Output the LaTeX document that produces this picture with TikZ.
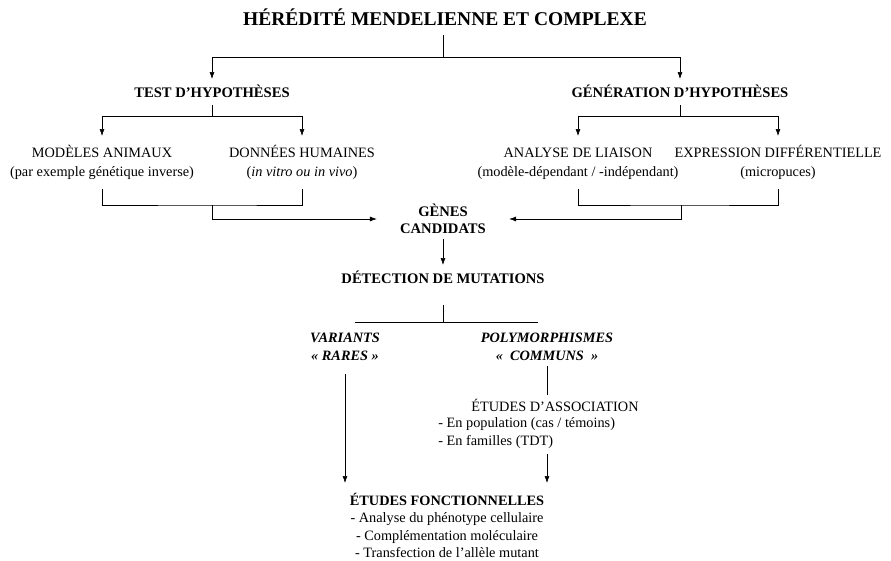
\documentclass[tikz,border=0pt]{standalone}
\usepackage{fontspec}
\setmainfont{Liberation Serif}
\usetikzlibrary{arrows.meta}

\begin{document}
\begin{tikzpicture}[>={Latex[length=7pt,width=5pt]}, x=1pt, y=-1pt, line width=0.6pt,
    titre/.style={font=\fontsize{19.5}{22}\selectfont\bfseries, text depth=4pt, inner sep=6pt, anchor=base},
    gras/.style={font=\fontsize{14.6}{17}\selectfont\bfseries, text height=12.5pt, text depth=2pt, inner sep=5.5pt, anchor=north},
    grasduo/.style={font=\fontsize{14.6}{17}\selectfont\bfseries, align=center, inner xsep=23pt, inner ysep=5pt},
    grasital/.style={font=\fontsize{14.3}{18}\selectfont\bfseries\itshape, align=center, inner sep=5pt, anchor=north},
    texte/.style={font=\fontsize{14.3}{19}\selectfont, align=center, inner xsep=2pt, inner ysep=9pt, anchor=north},
    simple/.style={font=\fontsize{14.3}{18}\selectfont, text height=12.5pt, text depth=3pt, inner sep=3.5pt, anchor=north},
    liste/.style={font=\fontsize{14.3}{18.5}\selectfont, align=left, inner sep=2pt, anchor=north west},
    bloc/.style={font=\fontsize{14.3}{17.3}\selectfont, align=center, inner xsep=2pt, inner ysep=10pt, anchor=north}]
    \useasboundingbox (0,0) rectangle (891,560);

    % 1. Titre et les deux branches
    \node[titre] (titre) at (445,25) {HÉRÉDITÉ MENDELIENNE ET COMPLEXE};
    \node[gras] (test) at (212,79) {TEST D’HYPOTHÈSES};
    \node[gras] (gen) at (680,79) {GÉNÉRATION D’HYPOTHÈSES};

    \coordinate (j0) at (443,57);
    \draw (titre.south -| j0) -- (j0);
    \draw[->] (j0) -| (test);
    \draw[->] (j0) -| (gen);

    % 2. Approches
    \node[texte] (animaux) at (102,136) {MODÈLES ANIMAUX\\(par exemple génétique inverse)};
    \node[texte] (humaines) at (302,136) {DONNÉES HUMAINES\\(\textit{in vitro ou in vivo})};
    \node[texte] (liaison) at (578,136) {ANALYSE DE LIAISON\vphantom{É}\\(modèle-dépendant / -indépendant)};
    \node[texte] (expression) at (778,136) {EXPRESSION DIFFÉRENTIELLE\\(micropuces)};

    \coordinate (j1) at (212,116);
    \coordinate (j2) at (680,116);
    \draw (test) -- (j1);
    \draw[->] (j1) -| (animaux);
    \draw[->] (j1) -| (humaines);
    \draw (gen) -- (j2);
    \draw[->] (j2) -| (liaison);
    \draw[->] (j2) -| (expression);

    % 3. Gènes candidats
    \node[grasduo] (genes) at (443,219) {GÈNES\\CANDIDATS};

    \coordinate (k1) at (212,205);
    \coordinate (k1b) at (212,219);
    \coordinate (k2) at (681,205);
    \coordinate (k2b) at (681,219);
    \draw (animaux) |- (k1) -| (humaines);
    \draw[->] (k1) -- (k1b) -- (genes.west |- k1b);
    \draw (liaison) |- (k2) -| (expression);
    \draw[->] (k2) -- (k2b) -- (genes.east |- k2b);

    % 4. Détection de mutations
    \node[gras] (detect) at (443,265) {DÉTECTION DE MUTATIONS};
    \draw[->] (genes) -- (detect);

    \coordinate (m0) at (443,322);
    \coordinate (m1) at (355,322);
    \coordinate (m2) at (538,322);
    \draw[shorten <=14pt] (detect) -- (m0);
    \draw (m1) -- (m2);

    \node[grasital] (variants) at (345,328) {VARIANTS\\«~RARES~»};
    \node[grasital] (polym) at (547,328) {POLYMORPHISMES\\«~~COMMUNS~~»};

    % 5. Association et études fonctionnelles
    \node[simple] (assoc) at (555,395) {ÉTUDES D’ASSOCIATION};
    \node[liste] (liste) at (436,415) {- En population (cas / témoins)\\- En familles (TDT)};
    \node[bloc] (fonct) at (447,483) {\textbf{ÉTUDES FONCTIONNELLES}\\- Analyse du phénotype cellulaire\\- Complémentation moléculaire\\- Transfection de l’allèle mutant};

    \draw (polym) -- (polym |- assoc.north);
    \draw[->, shorten <=3pt] (polym |- liste.south) -- (polym |- fonct.north);
    \draw[->, shorten <=8pt] (variants) -- (variants |- fonct.north);
\end{tikzpicture}
\end{document}
